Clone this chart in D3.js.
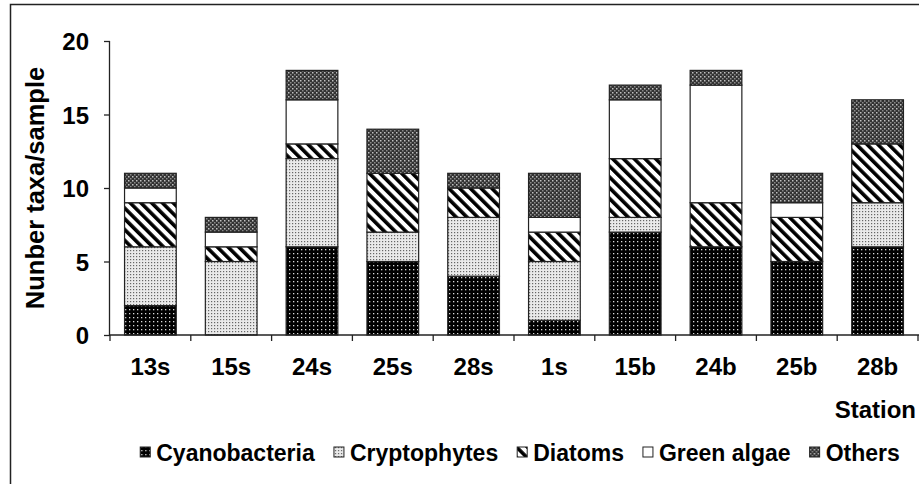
<!DOCTYPE html>
<html>
<head>
<meta charset="utf-8">
<script src="https://cdn.jsdelivr.net/npm/d3@7"></script>
<style>
	html, body { margin: 0; padding: 0; background: #fff; }
	#canvas { width: 919px; height: 484px; }
	text { font-family: 'Liberation Sans', Arial, sans-serif; font-weight: bold; fill: #000; }
</style>
</head>
<body>
<div id="canvas"></div>
<script>
const stations = ['13s', '15s', '24s', '25s', '28s', '1s', '15b', '24b', '25b', '28b'];
const groups = ['Cyanobacteria', 'Cryptophytes', 'Diatoms', 'Green algae', 'Others'];
const cyanobacteria = [2, 0, 6, 5, 4, 1, 7, 6, 5, 6];
const cryptophytes = [4, 5, 6, 2, 4, 4, 1, 0, 0, 3];
const diatoms = [3, 1, 1, 4, 2, 2, 4, 3, 3, 4];
const greenAlgae = [1, 1, 3, 0, 0, 1, 4, 8, 1, 0];
const others = [1, 1, 2, 3, 1, 3, 1, 1, 2, 3];
const yTicks = [0, 5, 10, 15, 20];

const chart = {
	width: 919,
	height: 484,
	margins: { left: 110, right: 1, top: 41, bottom: 149 },
	elements: {},
};

chartInit();

function chartInit() {
	const { width, height } = chart;
	const svg = d3.select('#canvas').append('svg').attr('width', width).attr('height', height);
	chart.elements.svg = svg;

	addPatterns(svg.append('defs'));

	// frame (only left and top edges are visible in the picture)
	svg.append('path')
		.attr('d', `M10.5,${height} V4.5 H${width}`)
		.attr('fill', 'none')
		.attr('stroke', '#222')
		.attr('stroke-width', 1.5);

	drawChart();
}

function addPatterns(defs) {
	// Cyanobacteria: black with white dots
	const cy = defs.append('pattern').attr('id', 'pat0').attr('patternUnits', 'userSpaceOnUse')
		.attr('width', 4).attr('height', 4);
	cy.append('rect').attr('width', 4).attr('height', 4).attr('fill', '#000');
	cy.append('rect').attr('x', 1).attr('y', 1).attr('width', 1.3).attr('height', 1.3).attr('fill', '#d8d8d8');

	// Cryptophytes: light grey with fine dark dots
	const cr = defs.append('pattern').attr('id', 'pat1').attr('patternUnits', 'userSpaceOnUse')
		.attr('width', 3).attr('height', 3);
	cr.append('rect').attr('width', 3).attr('height', 3).attr('fill', '#eaeaea');
	cr.append('rect').attr('x', 1).attr('y', 1).attr('width', 1.2).attr('height', 1.2).attr('fill', '#666');

	// Diatoms: thick "\" stripes
	const di = defs.append('pattern').attr('id', 'pat2').attr('patternUnits', 'userSpaceOnUse')
		.attr('width', 7.6).attr('height', 7.6).attr('patternTransform', 'rotate(-45)');
	di.append('rect').attr('width', 7.6).attr('height', 7.6).attr('fill', '#fff');
	di.append('rect').attr('width', 3.6).attr('height', 7.6).attr('fill', '#000');

	// Green algae: plain white
	const gr = defs.append('pattern').attr('id', 'pat3').attr('patternUnits', 'userSpaceOnUse')
		.attr('width', 4).attr('height', 4);
	gr.append('rect').attr('width', 4).attr('height', 4).attr('fill', '#fff');

	// Others: dark grey lattice
	const ot = defs.append('pattern').attr('id', 'pat4').attr('patternUnits', 'userSpaceOnUse')
		.attr('width', 4).attr('height', 4);
	ot.append('rect').attr('width', 4).attr('height', 4).attr('fill', '#333');
	ot.append('rect').attr('x', 0).attr('y', 0).attr('width', 1.5).attr('height', 1.5).attr('fill', '#c0c0c0');
	ot.append('rect').attr('x', 2).attr('y', 2).attr('width', 1.5).attr('height', 1.5).attr('fill', '#8a8a8a');
}

function drawChart() {
	const { svg } = chart.elements;
	const { width, height, margins } = chart;

	const series = [cyanobacteria, cryptophytes, diatoms, greenAlgae, others];
	const table = stations.map((s, i) => {
		const row = { station: s };
		groups.forEach((g, j) => (row[g] = series[j][i]));
		return row;
	});
	const stacked = d3.stack().keys(groups)(table);

	const x = d3.scaleBand()
		.domain(stations)
		.range([margins.left, width - margins.right])
		.paddingInner(0.36)
		.paddingOuter(0.18);
	const y = d3.scaleLinear().domain([0, 20]).range([height - margins.bottom, margins.top]);

	// bars
	svg.append('g').attr('id', 'bars')
		.selectAll('g')
		.data(stacked)
		.join('g')
		.attr('fill', (d, i) => `url(#pat${i})`)
		.selectAll('rect')
		.data(d => d.filter(v => v[1] - v[0] > 0))
		.join('rect')
		.attr('x', d => x(d.data.station))
		.attr('width', x.bandwidth())
		.attr('y', d => y(d[1]))
		.attr('height', d => y(d[0]) - y(d[1]))
		.attr('stroke', '#222')
		.attr('stroke-width', 1.2);

	// y axis
	const yAxis = svg.append('g').attr('transform', `translate(${margins.left},0)`)
		.call(d3.axisLeft(y).tickValues(yTicks).tickSize(6).tickPadding(15));
	yAxis.select('.domain').attr('d', `M-0.5,${y(0)}V${y(20)}`).attr('stroke', '#222').attr('stroke-width', 1.3);
	yAxis.selectAll('.tick line').attr('stroke', '#222').attr('stroke-width', 1.3);
	yAxis.selectAll('.tick text').style('font-size', '24px').attr('dy', '0.36em');

	// x axis: ticks at band boundaries
	const xAxis = svg.append('g').attr('transform', `translate(0,${y(0)})`);
	xAxis.append('line')
		.attr('x1', margins.left - 1).attr('x2', width)
		.attr('stroke', '#222').attr('stroke-width', 1.3);
	const edges = stations.map(s => x(s) - (x.step() * x.paddingInner()) / 2);
	edges.push(x(stations[stations.length - 1]) + x.bandwidth() + (x.step() * x.paddingInner()) / 2);
	xAxis.selectAll('line.tick')
		.data(edges)
		.join('line')
		.attr('class', 'tick')
		.attr('x1', d => d).attr('x2', d => d)
		.attr('y1', 0).attr('y2', 6)
		.attr('stroke', '#222').attr('stroke-width', 1.3);
	xAxis.selectAll('text')
		.data(stations)
		.join('text')
		.attr('x', d => x(d) + x.bandwidth() / 2)
		.attr('y', 40)
		.attr('text-anchor', 'middle')
		.style('font-size', '24px')
		.text(d => d);

	// axis titles
	svg.append('text')
		.attr('x', 916).attr('y', 418)
		.attr('text-anchor', 'end')
		.style('font-size', '24px')
		.text('Station');
	svg.append('text')
		.attr('transform', 'translate(44,188) rotate(-90)')
		.attr('text-anchor', 'middle')
		.style('font-size', '25.5px')
		.text('Nunber taxa/sample');

	drawLegend(svg);
}

function drawLegend(svg) {
	const legend = svg.append('g').attr('id', 'legend');
	const items = legend.selectAll('g').data(groups).join('g');
	items.append('rect')
		.attr('width', 10).attr('height', 10)
		.attr('y', -14)
		.attr('fill', (d, i) => `url(#pat${i})`)
		.attr('stroke', '#222')
		.attr('stroke-width', 1);
	items.append('text')
		.attr('x', 16)
		.style('font-size', '23px')
		.text(d => d);

	let pos = 0;
	const gap = 19;
	items.each(function () {
		const w = this.getBBox().width;
		d3.select(this).attr('data-x', pos);
		pos += w + gap;
	});
	const total = pos - gap;
	const start = 520 - total / 2;
	items.attr('transform', function () {
		return `translate(${start + Number(this.getAttribute('data-x'))},461)`;
	});
}
</script>
</body>
</html>
